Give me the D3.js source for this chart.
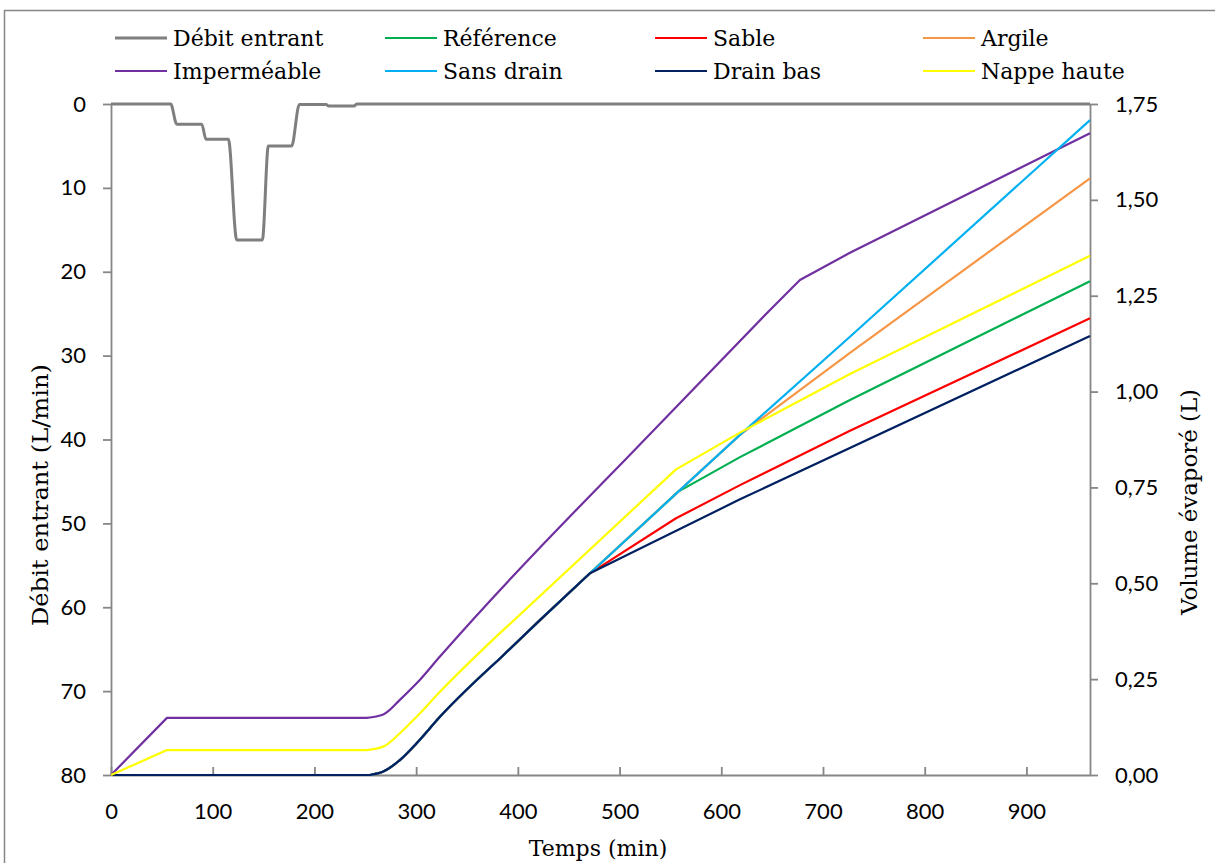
<!DOCTYPE html>
<html><head><meta charset="utf-8">
<script src="https://cdn.jsdelivr.net/npm/d3@7"></script>
<style>body{margin:0;background:#fff}svg{display:block}</style>
</head><body>
<svg id="chart" width="1215" height="863"></svg>
<script>
// ---- Data ----
const inflowTime = [0, 58.7, 64.6, 89.2, 93.4, 115.4, 123.6, 148.8, 154.7, 177.6, 185.2, 211.4, 214, 239, 241.5, 962.5];
const inflowRate = [0, 0, 2.4, 2.4, 4.2, 4.2, 16.2, 16.2, 5.0, 5.0, 0.05, 0.05, 0.25, 0.25, 0, 0];

const timeReference = [0, 254.6, 267.7, 284, 300.5, 323.4, 382.4, 421.7, 470.9, 557.7, 618.4, 726.5, 962.5];
const volReference  = [0, 0, 0.009, 0.039, 0.083, 0.152, 0.304, 0.404, 0.526, 0.739, 0.829, 0.978, 1.288];

const timeSable = [0, 254.6, 267.7, 284, 300.5, 323.4, 382.4, 421.7, 470.9, 555.5, 618.4, 726.5, 962.5];
const volSable  = [0, 0, 0.009, 0.039, 0.083, 0.152, 0.304, 0.404, 0.526, 0.6695, 0.756, 0.898, 1.191];

const timeArgile = [0, 254.6, 267.7, 284, 300.5, 323.4, 382.4, 421.7, 470.9, 557.7, 618.4, 726.5, 962.5];
const volArgile  = [0, 0, 0.009, 0.039, 0.083, 0.152, 0.304, 0.404, 0.526, 0.739, 0.887, 1.101, 1.556];

const timeImpermeable = [0, 55, 251.3, 267.7, 284, 300.5, 323.4, 505.3, 647.9, 677.3, 726.5, 962.5];
const volImpermeable  = [0, 0.149, 0.149, 0.158, 0.196, 0.239, 0.309, 0.8216, 1.213, 1.291, 1.362, 1.674];

const timeSansDrain = [0, 254.6, 267.7, 284, 300.5, 323.4, 382.4, 421.7, 470.9, 557.7, 618.4, 726.5, 962.5];
const volSansDrain  = [0, 0, 0.009, 0.039, 0.083, 0.152, 0.304, 0.404, 0.526, 0.739, 0.887, 1.143, 1.708];

const timeDrainBas = [0, 254.6, 267.7, 284, 300.5, 323.4, 382.4, 421.7, 470.9, 618.4, 962.5];
const volDrainBas  = [0, 0, 0.009, 0.039, 0.083, 0.152, 0.304, 0.404, 0.526, 0.719, 1.145];

const timeNappeHaute = [0, 55, 251.3, 267.7, 284, 300.5, 323.4, 382.4, 555.5, 618.4, 726.5, 962.5];
const volNappeHaute  = [0, 0.065, 0.065, 0.074, 0.109, 0.152, 0.217, 0.370, 0.797, 0.893, 1.046, 1.354];

const seriesNames  = ["Débit entrant", "Référence", "Sable", "Argile", "Imperméable", "Sans drain", "Drain bas", "Nappe haute"];
const seriesColors = ["#7f7f7f", "#00b050", "#ff0000", "#f79646", "#7030a0", "#00b0f0", "#002060", "#ffff00"];

const xTicks = [0, 100, 200, 300, 400, 500, 600, 700, 800, 900];
const leftTicks = [0, 10, 20, 30, 40, 50, 60, 70, 80];
const rightTicks = [0, 0.25, 0.5, 0.75, 1.0, 1.25, 1.5, 1.75];

// ---- Chart ----
const svg = d3.select("#chart");
const serif = "'DejaVu Serif', serif";
const sans = "Lato, 'Open Sans', sans-serif";
const axisColor = "#868686";

svg.append("rect").attr("x", 4.5).attr("y", 10.5).attr("width", 1400).attr("height", 1000)
  .attr("fill", "none").attr("stroke", axisColor).attr("stroke-width", 1.5);

const x = d3.scaleLinear().domain([0, 962.5]).range([111, 1090]);
const yL = d3.scaleLinear().domain([0, 80]).range([104, 775]);
const yR = d3.scaleLinear().domain([0, 1.75]).range([775, 104]);

function styleAxis(g) {
  g.select(".domain").attr("stroke", axisColor).attr("stroke-width", 1.8);
  g.selectAll(".tick line").attr("stroke", axisColor).attr("stroke-width", 1.8);
  g.selectAll(".tick text").attr("fill", "#000").style("font-family", sans).style("font-size", "22px");
}

svg.append("g").attr("transform", "translate(0,775)")
  .call(d3.axisBottom(x).tickValues(xTicks).tickSizeInner(-8).tickSizeOuter(0).tickPadding(28).tickFormat(d3.format("d")))
  .call(styleAxis);
svg.append("g").attr("transform", "translate(111,0)")
  .call(d3.axisLeft(yL).tickValues(leftTicks).tickSizeInner(8).tickSizeOuter(0).tickPadding(17).tickFormat(d3.format("d")))
  .call(styleAxis);
svg.append("g").attr("transform", "translate(1090,0)")
  .call(d3.axisRight(yR).tickValues(rightTicks).tickSizeInner(8).tickSizeOuter(0).tickPadding(17)
    .tickFormat(d => d.toFixed(2).replace(".", ",")))
  .call(styleAxis);

// Inflow line
const inflowData = inflowTime.map((t, i) => [t, inflowRate[i]]);
svg.append("path").datum(inflowData)
  .attr("fill", "none").attr("stroke", seriesColors[0]).attr("stroke-width", 3)
  .attr("stroke-linejoin", "round")
  .attr("d", d3.line().x(d => x(d[0])).y(d => yL(d[1])).curve(d3.curveMonotoneX));

const volSeries = [
  [timeReference, volReference],
  [timeSable, volSable],
  [timeArgile, volArgile],
  [timeImpermeable, volImpermeable],
  [timeSansDrain, volSansDrain],
  [timeDrainBas, volDrainBas],
  [timeNappeHaute, volNappeHaute]
];
// smooth the rounded onset (from ~250 min to the first point after 330 min), straight segments elsewhere
const smoothLine = d3.line().x(d => x(d[0])).y(d => yR(d[1])).curve(d3.curveMonotoneX);
const straightLine = d3.line().x(d => x(d[0])).y(d => yR(d[1])).curve(d3.curveLinear);
volSeries.forEach((s, i) => {
  const data = s[0].map((t, j) => [t, s[1][j]]);
  const a = data.findIndex(d => d[0] >= 250);
  const b = data.findIndex(d => d[0] >= 330);
  const p1 = straightLine(data.slice(0, a + 1));
  const p2 = smoothLine(data.slice(a, b + 1)).replace(/^M/, "L");
  const p3 = straightLine(data.slice(b)).replace(/^M/, "L");
  svg.append("path")
    .attr("fill", "none").attr("stroke", seriesColors[i + 1]).attr("stroke-width", 2.2)
    .attr("stroke-linejoin", "round")
    .attr("d", p1 + p2 + p3);
});

// Legend
const legX = [115, 385, 655, 923];
const legY = [38, 71];
seriesNames.forEach((name, i) => {
  const cx = legX[i % 4], cy = legY[Math.floor(i / 4)];
  svg.append("line").attr("x1", cx).attr("x2", cx + 52).attr("y1", cy).attr("y2", cy)
    .attr("stroke", seriesColors[i]).attr("stroke-width", i === 0 ? 3 : 2.2);
  svg.append("text").attr("x", cx + 58).attr("y", cy + 8).text(name)
    .style("font-family", serif).style("font-size", "22px").attr("fill", "#000");
});

// Axis titles
svg.append("text").attr("transform", "translate(48,495) rotate(-90)").attr("text-anchor", "middle")
  .attr("textLength", 262).attr("lengthAdjust", "spacingAndGlyphs")
  .style("font-family", serif).style("font-size", "23px").text("Débit entrant (L/min)");
svg.append("text").attr("transform", "translate(1197,502) rotate(-90)").attr("text-anchor", "middle")
  .attr("textLength", 226).attr("lengthAdjust", "spacingAndGlyphs")
  .style("font-family", serif).style("font-size", "22px").text("Volume évaporé (L)");
svg.append("text").attr("x", 598).attr("y", 856).attr("text-anchor", "middle")
  .style("font-family", serif).style("font-size", "22px").text("Temps (min)");
</script>
</body></html>
